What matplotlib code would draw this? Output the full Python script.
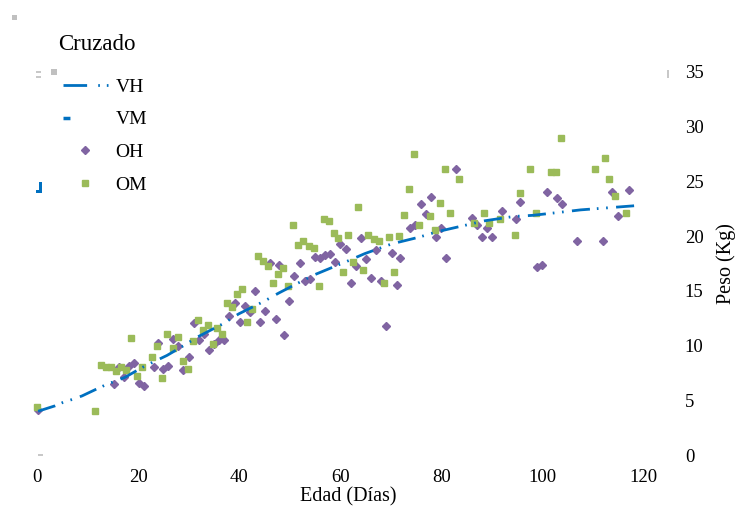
import matplotlib
matplotlib.use("Agg")
import matplotlib.pyplot as plt
from matplotlib.lines import Line2D
from matplotlib.patches import Rectangle

plt.rcParams['font.family'] = ['Liberation Serif', 'DejaVu Serif']
plt.rcParams['lines.scale_dashes'] = False

# trend line (VH)
vh_dias = [0.2, 3.6, 5.1, 7.1, 8.9, 12.1, 14.0, 15.8, 17.4, 20.8, 22.1, 23.9, 25.7, 28.3,
           31.8, 36.8, 39.9, 44.7, 47.8, 54.5, 61.3, 64.8, 70.2, 75.5, 79.1, 88.5, 94.3,
           98.0, 103.8, 107.5, 113.2, 118.8]
vh_peso = [4.0, 4.5, 4.8, 5.1, 5.4, 6.1, 6.5, 6.8, 7.1, 8.0, 8.3, 8.7, 9.1, 9.8,
           10.8, 12.0, 12.9, 14.0, 14.8, 16.4, 17.7, 18.4, 19.3, 19.9, 20.4, 21.4, 21.8,
           21.9, 22.2, 22.4, 22.6, 22.8]

# observed males (OH)
oh_dias = [0.2, 15.2, 16.2, 17.2, 18.2, 19.2, 20.2, 21.1, 23.1, 23.9, 24.9, 25.9, 26.9, 27.9,
           28.9, 30.0, 31.0, 32.0, 33.0, 34.0, 35.0, 36.0, 37.0, 37.9, 39.1, 40.1, 41.1, 42.1,
           43.1, 44.1, 45.1, 46.0, 47.2, 47.8, 48.8, 49.8, 50.8, 52.0, 53.0, 54.0, 54.9, 55.9,
           56.9, 57.9, 58.9, 59.9, 61.1, 62.1, 63.0, 64.0, 65.0, 66.0, 67.0, 68.0, 69.0, 70.2,
           71.1, 71.7, 73.7, 74.7, 75.9, 76.9, 77.9, 78.9, 79.8, 80.8, 82.8, 86.0, 87.0, 88.0,
           88.9, 89.9, 91.9, 94.7, 95.5, 98.8, 99.8, 100.8, 102.8, 103.8, 106.7, 111.9, 113.8,
           114.8, 117.0]
oh_peso = [4.1, 6.5, 8.0, 7.1, 8.1, 8.4, 6.6, 6.3, 8.0, 10.2, 7.9, 8.1, 10.6, 10.0,
           7.8, 9.0, 12.1, 10.5, 11.1, 9.6, 10.1, 10.5, 10.5, 12.7, 13.9, 12.2, 13.6, 13.1,
           15.0, 12.2, 13.2, 17.5, 12.4, 17.4, 11.0, 14.1, 16.4, 17.5, 15.9, 16.1, 18.1, 18.0,
           18.3, 18.4, 17.6, 19.3, 18.8, 15.7, 17.3, 19.8, 17.9, 16.2, 18.7, 15.9, 11.8, 18.5,
           15.5, 18.0, 20.7, 21.0, 22.9, 22.0, 23.6, 19.9, 20.7, 18.0, 26.1, 21.7, 21.0, 19.9,
           20.7, 19.9, 22.3, 21.6, 23.1, 17.2, 17.4, 24.0, 23.5, 22.9, 19.6, 19.6, 24.0,
           21.8, 24.2]

# observed females (OM)
om_dias = [0.0, 11.5, 12.6, 13.6, 14.6, 15.6, 16.6, 17.6, 18.6, 19.7, 20.7, 22.7, 23.7, 24.7,
           25.7, 26.9, 27.9, 28.9, 29.8, 30.8, 31.8, 32.8, 33.8, 34.8, 35.6, 36.6, 37.5, 38.5,
           39.5, 40.5, 41.5, 42.5, 43.7, 44.7, 45.7, 46.6, 47.6, 48.6, 49.6, 50.6, 51.6, 52.6,
           53.8, 54.7, 55.7, 56.7, 57.7, 58.7, 59.5, 60.5, 61.5, 62.5, 63.4, 64.4, 65.4, 66.6,
           67.6, 68.6, 69.6, 70.6, 71.5, 72.5, 73.5, 74.5, 75.5, 77.7, 78.7, 79.6, 80.6, 81.6,
           83.4, 86.4, 88.3, 89.3, 91.5, 94.5, 95.5, 97.4, 98.6, 101.6, 102.6, 103.6, 110.3,
           112.3, 113.2, 114.2, 116.4]
om_peso = [4.4, 4.0, 8.2, 8.0, 8.0, 7.7, 8.0, 7.8, 10.7, 7.2, 8.0, 9.0, 10.0, 7.0,
           11.1, 9.8, 10.8, 8.6, 7.9, 10.4, 12.3, 11.4, 11.9, 10.1, 11.6, 11.1, 13.9, 13.5,
           14.7, 15.2, 12.2, 13.3, 18.2, 17.7, 17.3, 15.7, 16.5, 17.1, 15.4, 21.0, 19.2, 19.6,
           19.1, 18.9, 15.4, 21.6, 21.4, 20.3, 19.8, 16.7, 20.1, 17.6, 22.7, 16.9, 20.1, 19.7,
           19.6, 15.7, 19.9, 16.7, 20.0, 21.9, 24.3, 27.5, 21.0, 21.8, 20.6, 23.0, 26.1, 22.1,
           25.2, 21.2, 22.1, 21.2, 21.6, 20.1, 23.9, 26.1, 22.1, 25.9, 25.9, 29.0, 26.1,
           27.1, 25.2, 23.7, 22.1]

xticks = [0, 20, 40, 60, 80, 100, 120]
yticks = [0, 5, 10, 15, 20, 25, 30, 35]

blue = '#0070C0'
purple = '#8064A2'
green = '#9BBB59'
dash = (0, (13, 5, 1.2, 5.5, 1.2, 6))

fig = plt.figure(figsize=(7.35, 5.08), dpi=100)
ax = fig.add_axes([0.0435, 0.1043, 0.86, 0.754])

ax.plot(oh_dias, oh_peso, linestyle='none', marker='D', ms=4.2, color=purple, clip_on=False)
ax.plot(om_dias, om_peso, linestyle='none', marker='s', ms=4.2, color=green, clip_on=False)
ax.plot(vh_dias, vh_peso, color=blue, lw=2, linestyle=dash)

ax.set_xlim(-1, 124)
ax.set_ylim(0, 35)
ax.set_xticks(xticks)
ax.set_yticks(yticks)
ax.yaxis.tick_right()
ax.yaxis.set_label_position('right')
ax.tick_params(length=0, labelsize=13.5, colors='#000000')
ax.tick_params(axis='x', pad=10)
ax.tick_params(axis='y', pad=15)
for s in ax.spines.values():
    s.set_visible(False)
ax.set_xlabel('Edad (Días)', fontsize=14.5, labelpad=1)
ax.set_ylabel('Peso (Kg)', fontsize=14.5, labelpad=9)

fig.text(58 / 735, 1 - 45 / 508, 'Cruzado', fontsize=16.5, ha='left', va='center')

handles = [
    Line2D([], [], color=blue, lw=2, linestyle=(0, (17, 8, 1.2, 5, 1.2, 30))),
    Line2D([], [], color=blue, lw=2.5, linestyle=(0, (5, 60))),
    Line2D([], [], linestyle='none', marker='D', ms=4, color=purple),
    Line2D([], [], linestyle='none', marker='s', ms=4, color=green),
]
leg = fig.legend(handles, ['VH', 'VM', 'OH', 'OM'], frameon=False,
                 loc='upper left', bbox_to_anchor=(63 / 735, 1 - 78 / 508),
                 borderaxespad=0, borderpad=0, fontsize=14,
                 handlelength=2.3, handletextpad=0.4, labelspacing=0.78)

# small leftover marks of the original rendering
for (x, y, w, h, c) in [(12, 15, 5, 5, '#c0c0c0'), (51, 69, 6, 6, '#c0c0c0'),
                        (36, 71, 5, 2, '#c8c8c8'), (36, 76, 5, 2, '#c8c8c8'),
                        (38, 454, 5, 2, '#c8c8c8'), (667, 70, 1.5, 8, '#c8c8c8'),
                        (36, 190, 6, 3, blue), (39, 182, 3, 10, blue)]:
    fig.patches.append(Rectangle((x / 735, 1 - (y + h) / 508), w / 735, h / 508,
                                 transform=fig.transFigure, color=c, lw=0))

fig.savefig('out.png', dpi=100)
